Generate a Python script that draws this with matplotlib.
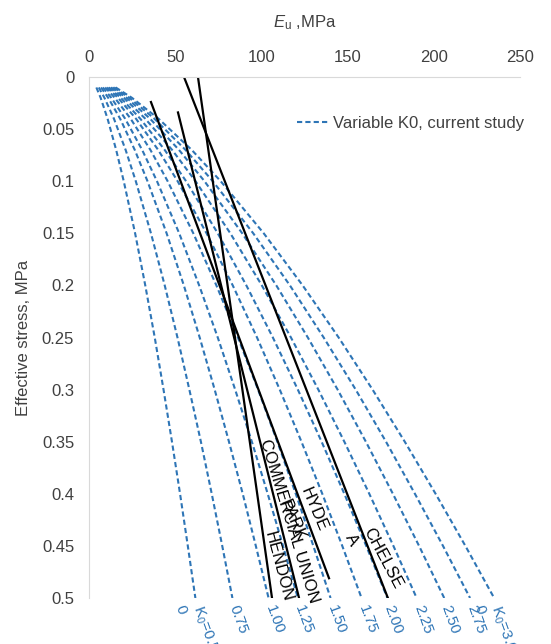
import numpy as np
import matplotlib.pyplot as plt

plt.rcParams['font.family'] = ['Liberation Sans', 'DejaVu Sans']
plt.rcParams['mathtext.fontset'] = 'custom'
plt.rcParams['mathtext.rm'] = 'Liberation Sans'
plt.rcParams['mathtext.it'] = 'Liberation Sans:italic'

# effective stress (MPa) at which the K0 curves are read
stress = [0.01, 0.02, 0.04, 0.07, 0.1, 0.15, 0.2, 0.25, 0.3, 0.35, 0.4, 0.45, 0.5]

# Eu (MPa) for each K0 curve
k0_labels = ['K$_0$=0.5', '0.75', '1.00', '1.25', '1.50', '1.75',
             '2.00', '2.25', '2.50', '2.75', 'K$_0$=3.0']
eu_k0 = [
    [4.0, 6.5, 10.5, 15.5, 19.9, 26.5, 32.4, 37.9, 43.0, 47.9, 52.6, 57.1, 61.5],
    [5.4, 8.7, 14.2, 21.0, 26.9, 35.7, 43.7, 51.1, 58.0, 64.7, 71.0, 77.1, 83.0],
    [6.7, 10.9, 17.8, 26.3, 33.7, 44.8, 54.8, 64.0, 72.7, 81.0, 89.0, 96.6, 104.0],
    [7.8, 12.7, 20.7, 30.6, 39.2, 52.1, 63.7, 74.5, 84.6, 94.3, 103.5, 112.4, 121.0],
    [9.1, 14.7, 23.9, 35.4, 45.4, 60.3, 73.7, 86.2, 97.9, 109.1, 119.8, 130.0, 140.0],
    [10.2, 16.6, 27.0, 39.9, 51.2, 68.0, 83.2, 97.3, 110.5, 123.1, 135.2, 146.8, 158.0],
    [11.2, 18.2, 29.5, 43.7, 56.1, 74.5, 91.1, 106.5, 121.0, 134.8, 148.0, 160.7, 173.0],
    [12.3, 20.0, 32.4, 48.0, 61.6, 81.8, 100.1, 117.0, 132.9, 148.0, 162.5, 176.5, 190.0],
    [13.3, 21.6, 35.2, 52.0, 66.8, 88.7, 108.5, 126.8, 144.1, 160.5, 176.2, 191.4, 206.0],
    [14.3, 23.2, 37.7, 55.8, 71.6, 95.1, 116.4, 136.0, 154.6, 172.2, 189.0, 205.3, 221.0],
    [15.2, 24.7, 40.1, 59.4, 76.2, 101.2, 123.8, 144.7, 164.4, 183.1, 201.0, 218.3, 235.0],
]

# measured sites (straight lines)
site_names = ['HENDON', 'COMMERCIAL UNION', 'HYDE PARK', 'CHELSEA']
site_eu = [[63.0, 106.0], [51.4, 121.7], [35.7, 139.1], [54.9, 173.3]]
site_stress = [[0.0, 0.5], [0.034, 0.5], [0.024, 0.481], [0.0, 0.5]]

blue = '#2E75B6'

fig = plt.figure(figsize=(5.51, 6.44), dpi=100)
ax = fig.add_axes([0.1624, 0.0714, 0.7813, 0.809])

for i, e in enumerate(eu_k0):
    ax.plot(e, stress, color=blue, lw=1.5, ls=(0, (2.5, 1.5)),
            label='Variable K0, current study' if i == 0 else None)

for e, s in zip(site_eu, site_stress):
    ax.plot(e, s, color='black', lw=1.6)

# K0 labels under the curve ends
for lab, e in zip(k0_labels, eu_k0):
    ax.annotate(lab, xy=(e[-1], stress[-1]), xytext=(1, -8), textcoords='offset pixels',
                rotation=-70, rotation_mode='anchor', ha='left', va='center',
                fontsize=11, color=blue, annotation_clip=False)
# wrapped second lines of the first and last label
for e in (eu_k0[0], eu_k0[-1]):
    ax.annotate('0', xy=(e[-1], stress[-1]), xytext=(-16, -8), textcoords='offset pixels',
                rotation=-70, rotation_mode='anchor', ha='left', va='center',
                fontsize=11, color=blue, annotation_clip=False)

# site labels (wrapped like the original)
site_text = [
    [('HENDON', (6, 31), -75)],
    [('COMMERCIAL UNION', (-10, 77), -73)],
    [('HYDE', (-15, 69), -67), ('PARK', (-37, 58), -67)],
    [('CHELSE', (-5, 40), -62), ('A', (-36, 58), -62)],
]
for parts, e, s in zip(site_text, site_eu, site_stress):
    for txt, off, rot in parts:
        ax.annotate(txt, xy=(e[-1], s[-1]), xytext=off, textcoords='offset pixels',
                    rotation=rot, rotation_mode='anchor', ha='center', va='center',
                    fontsize=12, color='black')

ax.set_xlim(0, 250)
ax.set_ylim(0.5, 0)
ax.set_xticks(np.arange(0, 251, 50))
ax.set_yticks(np.arange(0, 0.501, 0.05))
ax.set_yticklabels(['0', '0.05', '0.1', '0.15', '0.2', '0.25', '0.3', '0.35',
                    '0.4', '0.45', '0.5'])
ax.xaxis.tick_top()
ax.xaxis.set_label_position('top')
ax.tick_params(axis='x', length=0, pad=9, labelsize=12, labelcolor='#404040')
ax.tick_params(axis='y', length=0, pad=11, labelsize=12, labelcolor='#404040')
ax.set_xlabel('$E_{\\mathrm{u}}$ ,MPa', fontsize=12, labelpad=16, color='#404040')
ax.set_ylabel('Effective stress, MPa', fontsize=12, labelpad=8, color='#404040')

for side in ('right', 'bottom'):
    ax.spines[side].set_visible(False)
for side in ('top', 'left'):
    ax.spines[side].set_color('#D9D9D9')

ax.legend(loc='upper left', bbox_to_anchor=(0.482, 0.925), frameon=False,
          fontsize=12, handlelength=1.9, handletextpad=0.25,
          borderpad=0, borderaxespad=0, labelcolor='#404040')

fig.savefig('out.png', dpi=100)
